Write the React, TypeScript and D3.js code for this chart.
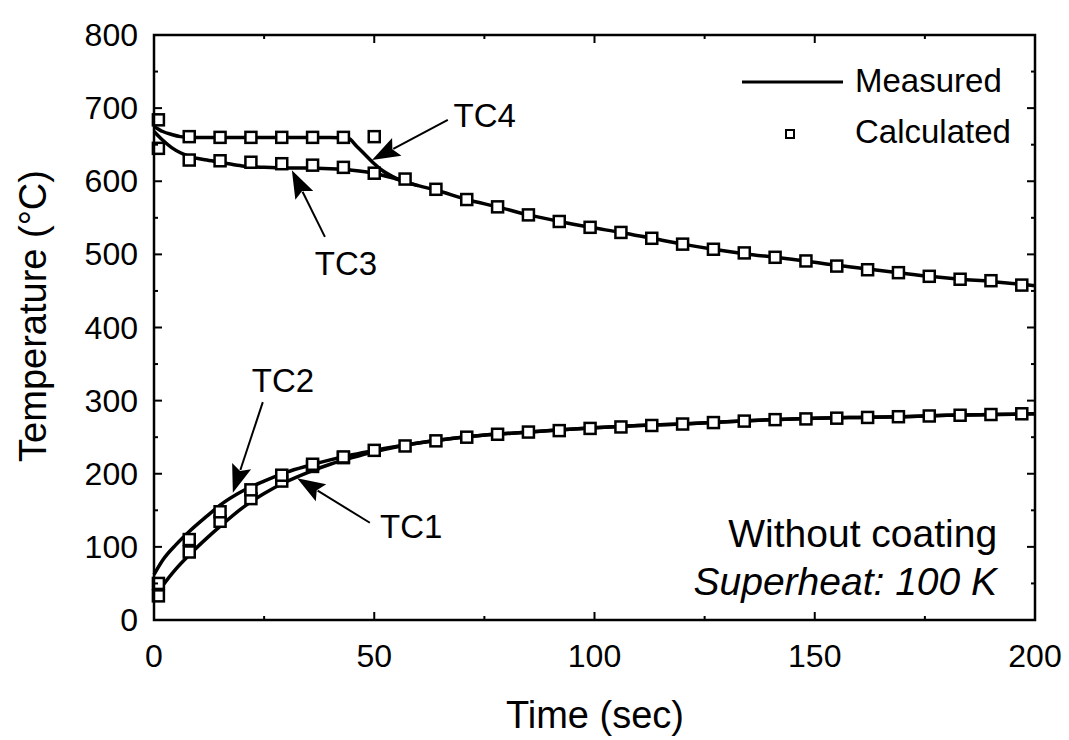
import React from "react";
import * as d3 from "d3";

// ---------- data ----------
const xTicks = [0, 50, 100, 150, 200];
const xMinor = [25, 75, 125, 175];
const yTicks = [0, 100, 200, 300, 400, 500, 600, 700, 800];
const yMinor = [50, 150, 250, 350, 450, 550, 650, 750];

// Measured (lines)
const tc1MeasT = [0, 2, 5, 8, 12, 15, 20, 25, 30, 35, 40, 45, 50, 60, 70, 80, 90, 100, 110, 120, 130, 140, 150, 160, 170, 180, 190, 200];
const tc1MeasV = [28, 47, 70, 89, 112, 128, 153, 173, 189, 202, 213, 222, 230, 242, 250, 255, 259, 263, 266, 268, 271, 274, 276, 277, 278, 280, 281, 282];
const tc2MeasT = [0, 2, 5, 8, 12, 15, 20, 25, 30, 35, 40, 45, 50, 60, 70, 80, 90, 100, 110, 120, 130, 140, 150, 160, 170, 180, 190, 200];
const tc2MeasV = [62, 82, 103, 121, 142, 157, 176, 190, 202, 211, 219, 226, 232, 242, 250, 255, 259, 263, 266, 268, 271, 274, 276, 277, 278, 280, 281, 282];
const tc3MeasT = [0, 2, 4, 6, 8, 12, 16, 20, 25, 30, 35, 40, 45, 50, 55, 60, 64, 71, 78, 85, 92, 99, 106, 113, 120, 127, 134, 141, 148, 155, 162, 169, 176, 183, 190, 197, 200];
const tc3MeasV = [668, 656, 646, 639, 634, 629, 625, 621, 619, 618, 618, 617, 615, 611, 603, 594, 588, 575, 565, 554, 545, 537, 530, 522, 514, 507, 501, 496, 491, 485, 480, 475, 470, 466, 463, 459, 457];
const tc4MeasT = [0, 2, 4, 6, 8, 12, 20, 30, 40, 44, 46, 48, 50, 52, 55, 58, 60];
const tc4MeasV = [675, 668, 664, 661, 660, 660, 660, 660, 660, 659, 648, 636, 624, 614, 604, 597, 594];

// Calculated (squares)
const calcT = [1, 8, 15, 22, 29, 36, 43, 50, 57, 64, 71, 78, 85, 92, 99, 106, 113, 120, 127, 134, 141, 148, 155, 162, 169, 176, 183, 190, 197];
const tc3Calc = [645, 629, 628, 626, 624, 622, 619, 611, 603, 589, 575, 565, 554, 545, 537, 530, 522, 514, 507, 502, 496, 491, 484, 479, 475, 470, 466, 464, 458];
const tc4CalcT = [1, 8, 15, 22, 29, 36, 43, 50];
const tc4Calc = [684, 661, 660, 660, 660, 660, 660, 661];
const tc2Calc = [50, 110, 148, 178, 198, 213, 223, 232, 238, 245, 250, 254, 257, 259, 262, 264, 266, 268, 270, 272, 274, 275, 276, 277, 278, 279, 280, 281, 282];
const tc1CalcT = [1, 8, 15, 22, 29, 36, 43];
const tc1Calc = [33, 93, 135, 166, 190, 210, 222];

// annotations: label, text pos, arrow tail, arrow tip (data units)
const annLabels = ["TC4", "TC3", "TC2", "TC1"];
const annText = [[68, 674], [36.5, 472], [22.2, 312], [51.3, 112]];
const annTail = [[66.7, 684], [38.8, 524], [24.7, 298], [49, 133]];
const annTip = [[49.5, 629], [31.3, 615], [17.9, 174], [32.5, 194]];

const FONT = "'Liberation Sans', Arial, Helvetica, sans-serif";

export default function App() {
  const W = 1069, H = 740;
  const x = d3.scaleLinear().domain([0, 200]).range([154, 1035]);
  const y = d3.scaleLinear().domain([0, 800]).range([620, 35]);
  const line = d3
    .line<[number, number]>()
    .x((d) => x(d[0]))
    .y((d) => y(d[1]))
    .curve(d3.curveMonotoneX);

  const zip = (t: number[], v: number[]) => t.map((tt, i) => [tt, v[i]] as [number, number]);
  const lines = [
    zip(tc1MeasT, tc1MeasV),
    zip(tc2MeasT, tc2MeasV),
    zip(tc3MeasT, tc3MeasV),
    zip(tc4MeasT, tc4MeasV),
  ];
  const calcs = [
    zip(tc1CalcT, tc1Calc),
    zip(calcT, tc2Calc),
    zip(calcT, tc3Calc),
    zip(tc4CalcT, tc4Calc),
  ];
  const S = 11;
  const x0 = x(0), x1 = x(200), y0 = y(0), y1 = y(800);

  const arrowHead = (tail: number[], tip: number[]) => {
    const tx = x(tip[0]), ty = y(tip[1]);
    const sx = x(tail[0]), sy = y(tail[1]);
    const ang = Math.atan2(ty - sy, tx - sx);
    const L = 28, Wd = 10;
    const bx = tx - L * Math.cos(ang), by = ty - L * Math.sin(ang);
    const px = -Math.sin(ang) * Wd, py = Math.cos(ang) * Wd;
    return {
      line: [sx, sy, bx + 4 * Math.cos(ang), by + 4 * Math.sin(ang)],
      head: `M${tx},${ty}L${bx + px},${by + py}L${bx + 5 * Math.cos(ang)},${by + 5 * Math.sin(ang)}L${bx - px},${by - py}Z`,
    };
  };

  return (
    <svg width={W} height={H} style={{ position: "absolute", left: 0, top: 0, background: "#fff" }} fontFamily={FONT}>
      <rect width={W} height={H} fill="#fff" />
      {/* measured lines */}
      {lines.map((d, i) => (
        <path key={"l" + i} d={line(d) || ""} fill="none" stroke="#000" strokeWidth={3.5} />
      ))}
      {/* calculated markers */}
      {calcs.map((s, i) =>
        s.map((d, j) => (
          <rect key={"c" + i + "-" + j} x={x(d[0]) - S / 2} y={y(d[1]) - S / 2} width={S} height={S} fill="#fff" stroke="#000" strokeWidth={2.5} />
        ))
      )}
      {/* frame */}
      <rect x={x0} y={y1} width={x1 - x0} height={y0 - y1} fill="none" stroke="#000" strokeWidth={2.5} />
      {/* x ticks */}
      {xTicks.map((t) => (
        <g key={"xt" + t}>
          <line x1={x(t)} x2={x(t)} y1={y0} y2={y0 - 8} stroke="#000" strokeWidth={2} />
          <line x1={x(t)} x2={x(t)} y1={y1} y2={y1 + 8} stroke="#000" strokeWidth={2} />
          <text x={x(t)} y={667} textAnchor="middle" fontSize={32}>{t}</text>
        </g>
      ))}
      {xMinor.map((t) => (
        <g key={"xm" + t}>
          <line x1={x(t)} x2={x(t)} y1={y0} y2={y0 - 4} stroke="#000" strokeWidth={2} />
          <line x1={x(t)} x2={x(t)} y1={y1} y2={y1 + 4} stroke="#000" strokeWidth={2} />
        </g>
      ))}
      {/* y ticks */}
      {yTicks.map((t) => (
        <g key={"yt" + t}>
          <line x1={x0} x2={x0 + 8} y1={y(t)} y2={y(t)} stroke="#000" strokeWidth={2} />
          <line x1={x1} x2={x1 - 8} y1={y(t)} y2={y(t)} stroke="#000" strokeWidth={2} />
          <text x={138} y={y(t) + 11} textAnchor="end" fontSize={32}>{t}</text>
        </g>
      ))}
      {yMinor.map((t) => (
        <g key={"ym" + t}>
          <line x1={x0} x2={x0 + 4} y1={y(t)} y2={y(t)} stroke="#000" strokeWidth={2} />
          <line x1={x1} x2={x1 - 4} y1={y(t)} y2={y(t)} stroke="#000" strokeWidth={2} />
        </g>
      ))}
      {/* axis titles */}
      <text x={595} y={728} textAnchor="middle" fontSize={38}>Time (sec)</text>
      <text x={46} y={316} textAnchor="middle" fontSize={38} transform="rotate(-90,46,316)">Temperature (°C)</text>
      {/* legend */}
      <line x1={742} x2={843} y1={82} y2={82} stroke="#000" strokeWidth={3} />
      <text x={855} y={92} fontSize={33}>Measured</text>
      <rect x={790 - 4} y={134 - 4} width={8} height={8} fill="#fff" stroke="#000" strokeWidth={2} />
      <text x={855} y={143} fontSize={33}>Calculated</text>
      {/* annotations */}
      {annLabels.map((lab, i) => {
        const a = arrowHead(annTail[i], annTip[i]);
        return (
          <g key={"a" + lab}>
            <line x1={a.line[0]} y1={a.line[1]} x2={a.line[2]} y2={a.line[3]} stroke="#000" strokeWidth={2} />
            <path d={a.head} fill="#000" />
            <text x={x(annText[i][0])} y={y(annText[i][1])} fontSize={33}>{lab}</text>
          </g>
        );
      })}
      <text x={x(191.4)} y={y(100)} textAnchor="end" fontSize={39}>Without coating</text>
      <text x={x(191.4)} y={595} textAnchor="end" fontSize={39} fontStyle="italic">Superheat: 100 K</text>
    </svg>
  );
}
